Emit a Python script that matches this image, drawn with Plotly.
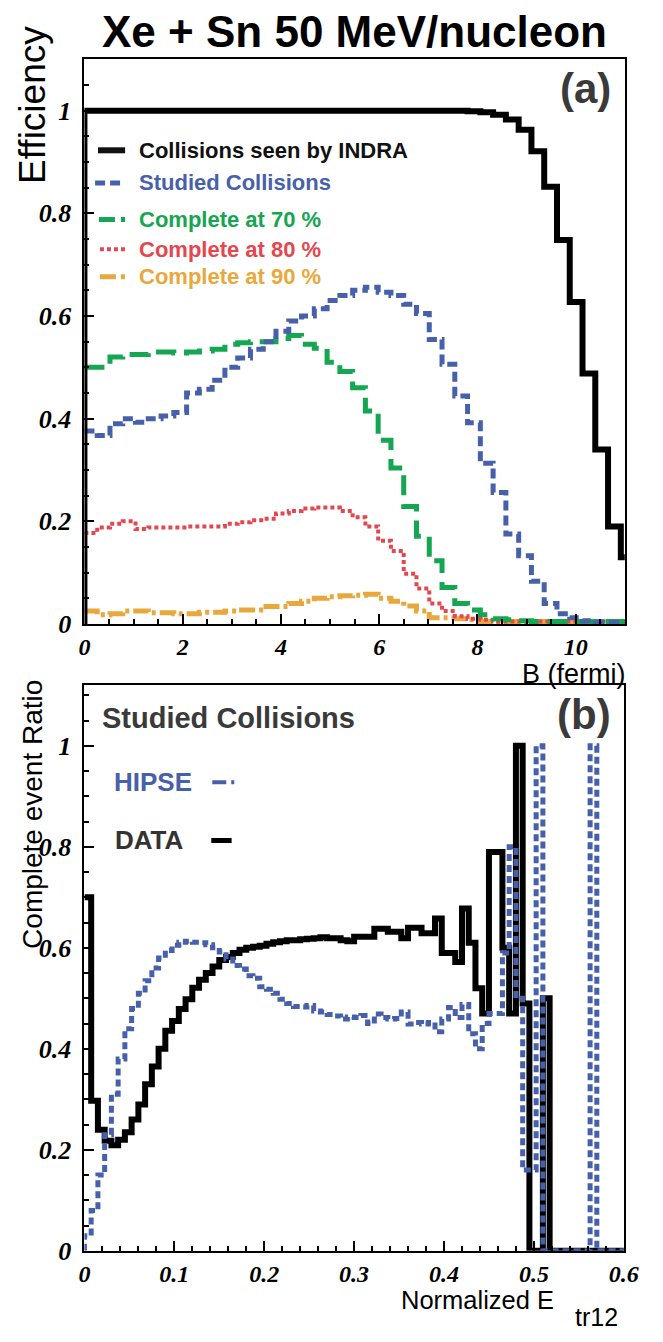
import plotly.graph_objects as go

W, H = 663, 1342

# ---------------- Panel (a): efficiency vs impact parameter B (fermi) ----------------
b_bin_width = 0.26
indra_seen = [1.0] * 30 + [0.999, 0.997, 0.992, 0.983, 0.963, 0.921, 0.852, 0.748,
                           0.627, 0.488, 0.34, 0.19, 0.13]
studied = [0.376, 0.367, 0.39, 0.40, 0.393, 0.40, 0.405, 0.412, 0.45, 0.457,
           0.475, 0.50, 0.518, 0.535, 0.55, 0.57, 0.59, 0.60, 0.614, 0.63,
           0.64, 0.65, 0.656, 0.646, 0.64, 0.623, 0.605, 0.554, 0.506, 0.444,
           0.392, 0.313, 0.256, 0.175, 0.133, 0.083, 0.04, 0.02, 0.012, 0.006,
           0.004, 0.003, 0.003]
complete70 = [0.50, 0.50, 0.52, 0.525, 0.525, 0.53, 0.53, 0.528, 0.53, 0.532,
              0.535, 0.545, 0.548, 0.55, 0.55, 0.556, 0.562, 0.545, 0.537, 0.51,
              0.492, 0.46, 0.415, 0.358, 0.304, 0.229, 0.171, 0.123, 0.071, 0.04,
              0.027, 0.018, 0.01, 0.008, 0.006, 0.005, 0.005, 0.005, 0.005, 0.005,
              0.005, 0.005, 0.005]
complete80 = [0.177, 0.188, 0.195, 0.20, 0.185, 0.188, 0.188, 0.188, 0.19, 0.19,
              0.19, 0.195, 0.198, 0.202, 0.205, 0.215, 0.22, 0.225, 0.227, 0.227,
              0.22, 0.208, 0.19, 0.162, 0.142, 0.098, 0.069, 0.04, 0.025, 0.015,
              0.01, 0.008] + [0.005] * 11
complete90 = [0.025, 0.018, 0.02, 0.025, 0.025, 0.022, 0.022, 0.02, 0.02, 0.023,
              0.023, 0.025, 0.027, 0.027, 0.034, 0.034, 0.04, 0.044, 0.05, 0.053,
              0.055, 0.056, 0.058, 0.05, 0.044, 0.035, 0.025, 0.012, 0.012, 0.01,
              0.008] + [0.005] * 12

# ---------------- Panel (b): complete event ratio vs normalized Etr12 ----------------
e_bin_width = 0.0075
hipse = [0.03, 0.08, 0.15, 0.23, 0.31, 0.38, 0.44, 0.48, 0.51, 0.535,
         0.56, 0.58, 0.595, 0.605, 0.611, 0.613, 0.611, 0.61, 0.606, 0.60,
         0.592, 0.578, 0.565, 0.558, 0.545, 0.54, 0.523, 0.518, 0.51, 0.498,
         0.49, 0.484, 0.483, 0.486, 0.475, 0.473, 0.468, 0.465, 0.459, 0.463,
         0.462, 0.466, 0.45, 0.469, 0.462, 0.459, 0.46, 0.473, 0.449, 0.452,
         0.449, 0.452, 0.434, 0.459, 0.482, 0.462, 0.488, 0.43, 0.40, 0.45,
         0.47, 0.47, 0.59, 0.80, 0.50, 0.16, 0.16, 1.0] + [0.0] * 7 + [1.0] + [0.0] * 4
data = [0.70, 0.297, 0.24, 0.218, 0.209, 0.22, 0.235, 0.26, 0.29, 0.33,
        0.365, 0.40, 0.436, 0.455, 0.479, 0.498, 0.521, 0.537, 0.55, 0.563,
        0.576, 0.582, 0.59, 0.596, 0.60, 0.602, 0.604, 0.608, 0.611, 0.613,
        0.615, 0.615, 0.617, 0.618, 0.619, 0.621, 0.619, 0.619, 0.615, 0.613,
        0.622, 0.622, 0.622, 0.638, 0.638, 0.632, 0.632, 0.619, 0.64, 0.64,
        0.629, 0.629, 0.658, 0.59, 0.59, 0.572, 0.678, 0.61, 0.52, 0.47,
        0.79, 0.79, 0.60, 0.47, 1.0, 0.49, 0.0, 0.0, 0.5] + [0.0] * 11

# colours
BLUE = "#4660AA"
GREEN = "#14A650"
RED = "#E4474F"
ORANGE = "#E9A83C"
DARK = "#3a3a3a"


def hist_xy(values, width, from_zero=False):
    edges = [i * width for i in range(len(values) + 1)]
    xs = list(edges)
    ys = list(values) + [values[-1]]
    if from_zero:
        xs = [0.0] + xs
        ys = [0.0] + ys
    return xs, ys


fig = go.Figure()

# panel (a)
for vals, col, dash, lw in [
    (complete90, ORANGE, "16px,4px,4px,4px", 5),
    (complete80, RED, "4px,3px", 4),
    (complete70, GREEN, "20px,9px", 5),
    (studied, BLUE, "10px,5px", 5),
]:
    x, y = hist_xy(vals, b_bin_width)
    fig.add_trace(go.Scatter(x=x, y=y, mode="lines", line_shape="hv",
                             line=dict(color=col, width=lw, dash=dash),
                             xaxis="x", yaxis="y", showlegend=False, hoverinfo="skip"))
x, y = hist_xy(indra_seen, b_bin_width, from_zero=True)
fig.add_trace(go.Scatter(x=x, y=y, mode="lines", line_shape="hv",
                         line=dict(color="black", width=6),
                         xaxis="x", yaxis="y", showlegend=False, hoverinfo="skip"))

# panel (b)
x, y = hist_xy(data, e_bin_width)
fig.add_trace(go.Scatter(x=x, y=y, mode="lines", line_shape="hv",
                         line=dict(color="black", width=6),
                         xaxis="x2", yaxis="y2", showlegend=False, hoverinfo="skip"))
x, y = hist_xy(hipse, e_bin_width, from_zero=True)
fig.add_trace(go.Scatter(x=x, y=y, mode="lines", line_shape="hv",
                         line=dict(color=BLUE, width=5, dash="7px,4px"),
                         xaxis="x2", yaxis="y2", showlegend=False, hoverinfo="skip"))


def tickfont(size):
    return dict(family="Liberation Serif", size=size, color="black",
                weight="bold", style="italic")


def axis(domain, rng, dtick, minor_dtick, anchor, standoff, fsize):
    return dict(domain=domain, range=rng, anchor=anchor, showline=True,
                linecolor="black", linewidth=2, mirror=True, ticks="inside",
                ticklen=10, tickwidth=1.5, tickcolor="black", dtick=dtick, tick0=0,
                minor=dict(ticks="inside", ticklen=5, tickwidth=1.5,
                           tickcolor="black", dtick=minor_dtick, tick0=0),
                showgrid=False, zeroline=False, tickfont=tickfont(fsize),
                ticklabelstandoff=standoff)


def px_x(px):
    return px / W


def px_y(py):
    return 1 - py / H


fig.update_layout(
    width=W, height=H, margin=dict(l=0, r=0, t=0, b=0),
    paper_bgcolor="white", plot_bgcolor="white",
    xaxis=axis([px_x(81), px_x(639)], [0, 11], 2, 0.5, "y", 0, 24),
    yaxis=axis([px_y(631), px_y(60)], [0, 1.1], 0.2, 0.05, "x", 6, 26),
    xaxis2=axis([px_x(81), px_x(638)], [0, 0.6], 0.1, 0.02, "y2", 0, 24),
    yaxis2=axis([px_y(1265), px_y(693)], [0, 1.12], 0.2, 0.05, "x2", 6, 26),
)

SANS = "Liberation Sans"


def note(text, xpx, ypx, size, color="black", bold=False, xanchor="left", angle=0,
         family=SANS):
    fig.add_annotation(text=text, x=px_x(xpx), y=px_y(ypx), xref="paper", yref="paper",
                       xanchor=xanchor, yanchor="middle", showarrow=False,
                       textangle=angle, borderpad=0,
                       font=dict(family=family, size=size, color=color,
                                 weight="bold" if bold else "normal"))


note("Xe + Sn 50 MeV/nucleon", 360, 32, 44, bold=True, xanchor="center")
note("(a)", 626, 90, 42, color=DARK, bold=True, xanchor="right")
note("(b)", 626, 723, 42, color=DARK, bold=True, xanchor="right")
note("Efficiency", 28, 106, 37, xanchor="center", angle=-90)
note("B (fermi)", 641, 682, 27, xanchor="right")
note("Complete event Ratio", 28, 824, 28, xanchor="center", angle=-90)
note("Normalized E", 407, 1315, 25.5)
note("tr12", 587, 1332, 25)

# legend panel (a)
leg_a = [
    ("Collisions seen by INDRA", "#111111", 152, "solid", 6, 95),
    ("Studied Collisions", BLUE, 185, "10px,5px", 5, 92),
    ("Complete at 70 %", GREEN, 222, "16px,6px", 5, 96),
    ("Complete at 80 %", RED, 252, "4px,3px", 4, 97),
    ("Complete at 90 %", ORANGE, 280, "16px,5px,4px,5px", 5, 97),
]
for text, col, ypx, dash, lw, x0 in leg_a:
    note(text, 136, ypx, 22, color=col, bold=True)
    fig.add_shape(type="line", xref="paper", yref="paper",
                  x0=px_x(x0), x1=px_x(123), y0=px_y(ypx), y1=px_y(ypx),
                  line=dict(color=col, width=lw, dash=dash))

# legend panel (b)
note("Studied Collisions", 98, 726, 29, color=DARK, bold=True)
note("HIPSE", 111, 791, 26, color=BLUE, bold=True)
note("DATA", 112, 850, 26, color="#333333", bold=True)
fig.add_shape(type="line", xref="paper", yref="paper",
              x0=px_x(213), x1=px_x(236), y0=px_y(791), y1=px_y(791),
              line=dict(color=BLUE, width=4, dash="14px,5px,3px,10px"))
fig.add_shape(type="line", xref="paper", yref="paper",
              x0=px_x(212), x1=px_x(233), y0=px_y(850), y1=px_y(850),
              line=dict(color="black", width=5))

fig.write_html("out.html")
